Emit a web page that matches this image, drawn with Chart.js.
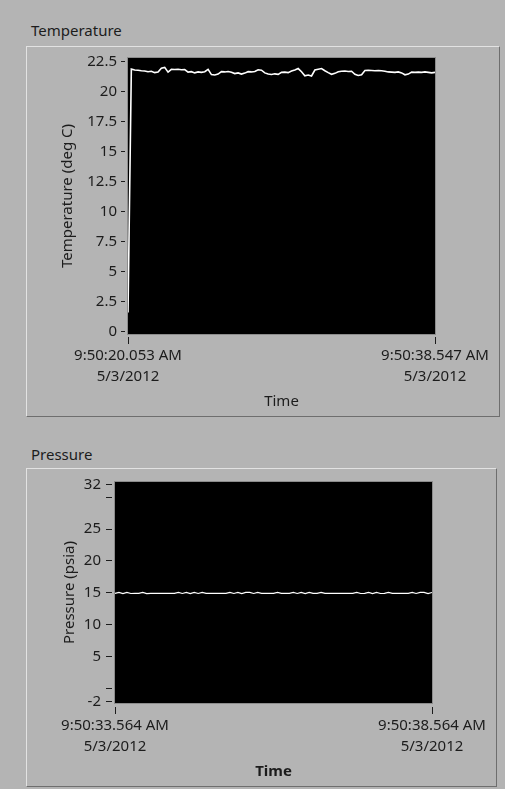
<!DOCTYPE html>
<html>
<head>
<meta charset="utf-8">
<script src="https://cdn.jsdelivr.net/npm/chart.js@4/dist/chart.umd.min.js"></script>
<style>
  html, body { margin: 0; padding: 0; width: 505px; height: 789px; overflow: hidden; background: #b4b4b4; }
  .caption { position: absolute; font: 15px "Noto Sans", sans-serif; color: #1c1c1c; line-height: 20px; }
  .panel { position: absolute; box-sizing: border-box; border: 1px solid; border-color: #e2e2e2 #6e6e6e #6e6e6e #e2e2e2; }
  canvas { position: absolute; }
</style>
</head>
<body>
<div class="caption" style="left:31px; top:20px;">Temperature</div>
<div class="panel" style="left:26px; top:46px; width:474px; height:371px;"></div>
<canvas id="tempChart" width="473" height="370" style="left:26px; top:46px;"></canvas>

<div class="caption" style="left:31px; top:444px;">Pressure</div>
<div class="panel" style="left:26px; top:468px; width:471px; height:319px;"></div>
<canvas id="pressChart" width="470" height="318" style="left:26px; top:468px;"></canvas>

<script>
// Temperature log: 93 samples spread evenly over the logged span (seconds)
const tempSpan = 18.494;
const tempValues = [
  1.6, 21.88, 21.8, 21.78, 21.74, 21.72, 21.66, 21.7, 21.58, 21.64,
  21.95, 22.02, 21.62, 21.86, 21.84, 21.86, 21.82, 21.84, 21.62, 21.66,
  21.56, 21.64, 21.6, 21.66, 21.86, 21.42, 21.38, 21.46, 21.66, 21.64,
  21.68, 21.62, 21.5, 21.56, 21.46, 21.54, 21.66, 21.64, 21.68, 21.82,
  21.78, 21.56, 21.46, 21.42, 21.48, 21.44, 21.6, 21.62, 21.58, 21.72,
  21.8, 21.92, 21.66, 21.32, 21.38, 21.3, 21.8, 21.86, 21.92, 21.74,
  21.58, 21.44, 21.52, 21.66, 21.7, 21.72, 21.68, 21.7, 21.44, 21.34,
  21.4, 21.76, 21.78, 21.76, 21.74, 21.76, 21.74, 21.7, 21.64, 21.62,
  21.6, 21.64, 21.56, 21.4, 21.46, 21.62, 21.6, 21.62, 21.6, 21.64,
  21.6, 21.56, 21.6
];
const tempYTicks = [0, 2.5, 5, 7.5, 10, 12.5, 15, 17.5, 20, 22.5];
const tempTimeLabels = [["9:50:20.053 AM", "5/3/2012"], ["9:50:38.547 AM", "5/3/2012"]];

// Pressure log: 81 samples over 5 seconds
const pressSpan = 5;
const pressValues = [
  14.94, 15.08, 14.9, 15.1, 14.92, 14.95, 14.94, 15.08, 14.9, 14.94,
  14.95, 14.94, 14.95, 14.94, 14.95, 14.94, 15.1, 14.92, 15.08, 14.9,
  15.1, 14.92, 15.08, 14.95, 14.94, 14.95, 14.94, 14.95, 14.94, 15.1,
  14.92, 15.08, 14.9, 15.08, 15.1, 14.92, 15.08, 14.94, 14.95, 14.94,
  14.95, 15.08, 14.94, 14.95, 14.94, 15.1, 14.92, 15.08, 14.9, 15.1,
  14.94, 14.95, 15.08, 14.94, 14.95, 14.94, 14.95, 14.94, 14.95, 14.94,
  14.95, 15.1, 14.92, 14.94, 15.08, 14.9, 15.1, 14.92, 14.94, 15.08,
  14.94, 14.95, 14.94, 14.95, 14.94, 15.1, 14.92, 15.08, 15.1, 14.9,
  15.08
];
const pressYTicks = [-2, 0, 5, 10, 15, 20, 25, 30, 32];
const pressYLabelled = [-2, 5, 10, 15, 20, 25, 32];
const pressTimeLabels = [["9:50:33.564 AM", "5/3/2012"], ["9:50:38.564 AM", "5/3/2012"]];

const ink = '#1c1c1c';
const tickFont = { family: 'Noto Sans', size: 15, lineHeight: 1.4 };

function toPoints(values, span) {
  const step = span / (values.length - 1);
  return values.map((v, i) => ({ x: i * step, y: v }));
}

// Black plotting surface with a thin grey frame
const plotFrame = {
  id: 'plotFrame',
  beforeDatasetsDraw(chart) {
    const { ctx, chartArea: a } = chart;
    ctx.save();
    ctx.fillStyle = '#000';
    ctx.fillRect(a.left, a.top, a.right - a.left, a.bottom - a.top);
    ctx.strokeStyle = '#8c8c8c';
    ctx.lineWidth = 1;
    ctx.strokeRect(a.left - 0.5, a.top - 0.5, a.right - a.left + 1, a.bottom - a.top + 1);
    ctx.restore();
  }
};

function makeChart(id, cfg) {
  return new Chart(document.getElementById(id), {
    type: 'line',
    data: {
      datasets: [{
        data: toPoints(cfg.values, cfg.span),
        borderColor: '#ffffff',
        borderWidth: cfg.lineWidth,
        pointRadius: 0,
        tension: 0
      }]
    },
    options: {
      responsive: false,
      animation: false,
      events: [],
      layout: { padding: { left: 0, top: cfg.top, right: cfg.right, bottom: 0 } },
      plugins: { legend: { display: false }, tooltip: { enabled: false } },
      scales: {
        x: {
          type: 'linear',
          min: 0,
          max: cfg.span,
          afterBuildTicks: s => { s.ticks = [{ value: 0 }, { value: cfg.span }]; },
          afterFit: s => { s.height = cfg.xHeight; s.paddingLeft = 0; s.paddingRight = 0; },
          border: { display: false },
          grid: { drawOnChartArea: false, tickLength: cfg.xTickLen, tickColor: ink, tickBorderDash: cfg.xTickDash },
          ticks: {
            autoSkip: false, maxRotation: 0, padding: cfg.xTickPad, color: ink, font: tickFont,
            callback: (v, i) => cfg.timeLabels[i]
          },
          title: {
            display: true, text: 'Time', color: ink,
            font: { family: 'Noto Sans', size: 15, lineHeight: 1.4, weight: cfg.timeBold ? 'bold' : 'normal' },
            padding: { top: 0, bottom: 3.5 }
          }
        },
        y: {
          min: cfg.yMin,
          max: cfg.yMax,
          afterBuildTicks: s => { s.ticks = cfg.yTicks.map(v => ({ value: v })); },
          afterFit: s => { s.width = cfg.yWidth; s.paddingTop = 0; s.paddingBottom = 0; },
          border: { display: false },
          grid: { drawOnChartArea: false, tickLength: cfg.yTickLen, tickColor: ink, tickBorderDash: cfg.yTickDash },
          ticks: {
            padding: cfg.yTickPad, color: ink, font: tickFont,
            callback: v => cfg.yLabel(v)
          },
          title: {
            display: true, text: cfg.yTitle, color: ink,
            font: { family: 'Noto Sans', size: 15, lineHeight: 1.4 },
            padding: { top: cfg.yTitlePad, bottom: 0 }
          }
        }
      }
    },
    plugins: [plotFrame]
  });
}

makeChart('tempChart', {
  values: tempValues, span: tempSpan, lineWidth: 1.6,
  top: 12, right: 64, xHeight: 82, yWidth: 102,
  yMin: -0.2, yMax: 22.8, yTicks: tempYTicks,
  yLabel: v => String(v),
  yTitle: 'Temperature (deg C)', yTitlePad: 31,
  yTickLen: 7, yTickDash: [4, 10], yTickPad: 4,
  xTickLen: 10, xTickDash: [0, 3, 7, 20], xTickPad: 1,
  timeLabels: tempTimeLabels, timeBold: false
});

makeChart('pressChart', {
  values: pressValues, span: pressSpan, lineWidth: 1.2,
  top: 14, right: 64, xHeight: 83, yWidth: 89,
  yMin: -2.2, yMax: 32.35, yTicks: pressYTicks,
  yLabel: v => (pressYLabelled.includes(v) ? String(v) : ''),
  yTitle: 'Pressure (psia)', yTitlePad: 33,
  yTickLen: 9, yTickDash: [6, 10], yTickPad: 5,
  xTickLen: 11, xTickDash: [0, 4, 7, 20], xTickPad: 1.5,
  timeLabels: pressTimeLabels, timeBold: true
});
</script>
</body>
</html>
